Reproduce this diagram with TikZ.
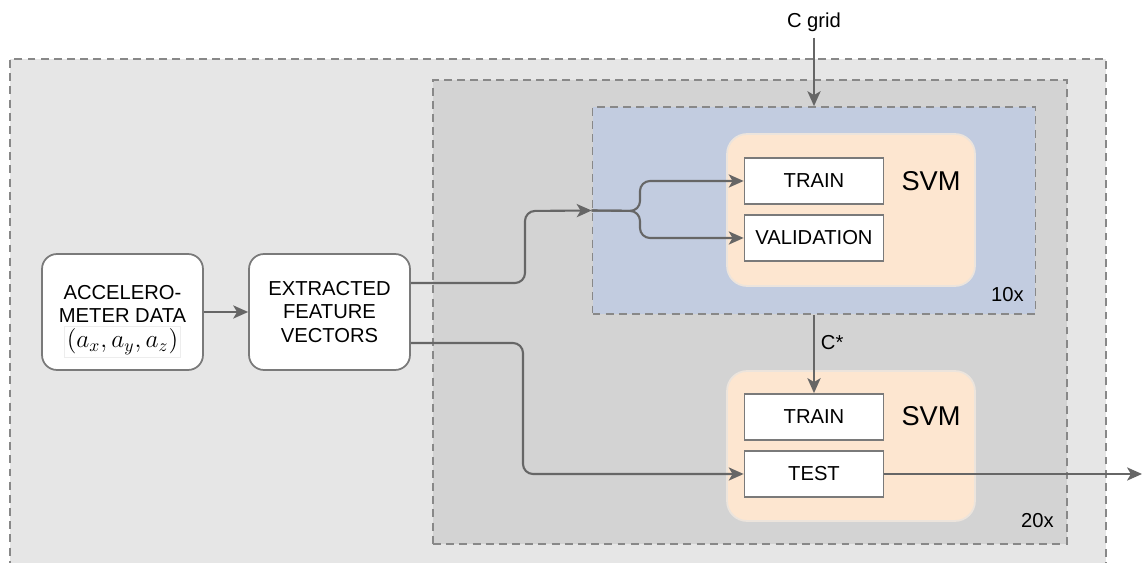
\documentclass[tikz,border=0pt]{standalone}
\usepackage{amsmath}
\usepackage{fontspec}
\setmainfont{Liberation Sans}
\usepackage{tikz}
\usetikzlibrary{arrows.meta}

\definecolor{outerfill}{HTML}{E6E6E6}
\definecolor{midfill}{HTML}{D3D3D3}
\definecolor{cvfill}{HTML}{C2CCE0}
\definecolor{svmfill}{HTML}{FDE6D0}
\definecolor{svmline}{HTML}{ECE4DC}
\definecolor{dashline}{HTML}{888888}
\definecolor{wire}{HTML}{666666}
\definecolor{boxline}{HTML}{7A7A7A}

\begin{document}
\begin{tikzpicture}[x=0.02cm, y=-0.02cm,
    every node/.style={font=\fontsize{11.5}{13.5}\selectfont},
    loopbox/.style={draw=dashline, line width=1pt, dash pattern=on 4.5pt off 3pt},
    svmbox/.style={draw=svmline, line width=1pt, fill=svmfill, rounded corners=0.4cm,
                   minimum width=4.96cm},
    stagebox/.style={draw=boxline, line width=1pt, fill=white,
                     minimum width=2.78cm, minimum height=0.92cm},
    databox/.style={draw=boxline, line width=1pt, fill=white, rounded corners=0.3cm,
                    align=center, minimum width=3.22cm, minimum height=2.32cm},
    mathbox/.style={draw=black!7, line width=0.4pt, inner sep=1.5pt},
    link/.style={draw=wire, line width=1.2pt, rounded corners=0.2cm,
                 -{Stealth[length=8.5pt,width=7.5pt,inset=2.2pt]}}]
    \useasboundingbox (0,0) rectangle (1143,563);

    % nested loops: 20x outer repetition, 10x cross validation inside
    \node[loopbox, fill=outerfill, minimum width=21.92cm, minimum height=10.44cm] (outer) at (558,320) {};
    \node[loopbox, fill=midfill, minimum width=12.68cm, minimum height=9.28cm] (rep) at (750,312) {};
    \node[loopbox, fill=cvfill, minimum width=8.86cm, minimum height=4.14cm] (cv) at (814,210.5) {};
    \node[anchor=base east] (cvcount) at (1030,302) {10x};
    \node[anchor=base east] (repcount) at (1060,528) {20x};

    % the two SVM stages
    \node[svmbox, minimum height=3.04cm] (svmA) at (851,210) {};
    \node[svmbox, minimum height=3.0cm] (svmB) at (851,446) {};
    \node[font=\fontsize{15.5}{17}\selectfont] (svmAlbl) at (931,181) {SVM};
    \node[font=\fontsize{15.5}{17}\selectfont] (svmBlbl) at (931,416) {SVM};
    \node[stagebox] (trainA) at (814,181) {TRAIN};
    \node[stagebox] (valid)  at (814,238) {VALIDATION};
    \node[stagebox] (trainB) at (814,417) {TRAIN};
    \node[stagebox] (test)   at (814,474) {TEST};

    % input side
    \node[databox] (acc) at (122.5,312) {};
    \node (acclbl) at (122.5,304) [align=center] {ACCELERO-\\METER DATA};
    \node[mathbox, font=\fontsize{14.5}{16}\selectfont] (accvec) at (122.5,342)
        {$(a_x, a_y, a_z)$};
    \node[databox] (feat) at (329.5,312) {EXTRACTED\\FEATURE\\VECTORS};

    \node (cgrid) at (814,22) {C grid};
    \coordinate (out) at (1142,474);

    % connectors
    \draw[link] (acc) -- (feat);
    \draw[link] ([yshift=0.58cm]feat.east) -- (525,283) -- (525,211) -- (cv.west);
    \draw[link] (cv.west) -- (640,211) |- (trainA.west);
    \draw[link] (cv.west) -- (640,211) |- (valid.west);
    \draw[link] ([yshift=-0.62cm]feat.east) -- (523,343) |- (test.west);
    \draw[link] (cgrid) -- (cv.north);
    \draw[link] (cv.south) -- node[right, pos=0.35] {C*} (trainB.north);
    \draw[link] (test.east) -- (out);
\end{tikzpicture}
\end{document}
